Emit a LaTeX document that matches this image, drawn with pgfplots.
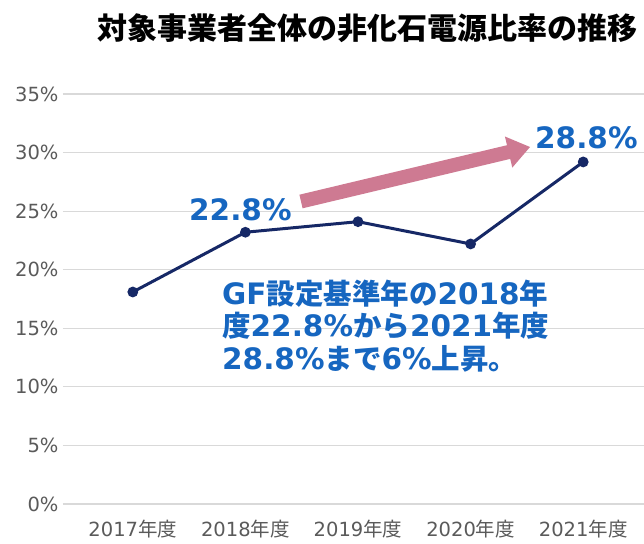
\documentclass[border=0pt]{standalone}
\usepackage{fontspec}
\setmainfont{DejaVu Sans}
\newfontfamily\cjk{Noto Sans CJK JP}
\usepackage{pgfplots}
\pgfplotsset{compat=1.18}
\definecolor{navy}{RGB}{22,40,102}
\definecolor{tblue}{RGB}{22,102,192}
\definecolor{apink}{RGB}{206,122,146}
\definecolor{gridc}{RGB}{217,217,217}
\definecolor{tickc}{RGB}{90,90,90}
\begin{document}
\begin{tikzpicture}[x=1pt,y=-1pt]
\path[use as bounding box] (0,0) rectangle (644,543);
\begin{axis}[
  at={(63pt,-504pt)}, anchor=south west,
  scale only axis, width=581pt, height=410pt,
  xmin=-0.62, xmax=4.54, ymin=0, ymax=35,
  axis line style={draw=none}, tick style={draw=none},
  ymajorgrids, grid style={gridc, line width=1.2pt},
  ytick={0,5,...,35},
  xtick={0,1,2,3,4},
  xticklabels={{2017\cjk 年度},{2018\cjk 年度},{2019\cjk 年度},{2020\cjk 年度},{2021\cjk 年度}},
  /pgf/number format/assume math mode=true,
  yticklabel={\pgfmathprintnumber{\tick}\%},
  ticklabel style={font=\fontsize{19.5}{22}\selectfont, text=tickc},
  yticklabel style={xshift=-1pt},
  xticklabel style={anchor=base, yshift=-32pt},
  clip=false,
]
\addplot[navy, line width=3pt, mark=*, mark size=3.8pt, mark options={fill=navy, draw=navy}]
  coordinates {(0,18.1) (1,23.2) (2,24.1) (3,22.2) (4,29.2)};
\end{axis}
% arrow
\fill[apink] (302.6,208.3) -- (510.2,158.9) -- (512.3,167.6) -- (530,147) -- (504.9,136.5) -- (507.0,145.2) -- (299.4,194.7) -- cycle;
% title
\node[anchor=west, inner sep=0pt, font=\cjk\bfseries\fontsize{30}{34}\selectfont] at (97,28) {対象事業者全体の非化石電源比率の推移};
% value labels
\node[anchor=base west, inner sep=0pt, text=tblue, font=\bfseries\fontsize{29.5}{32}\selectfont] at (189,220) {22.8\%};
\node[anchor=base west, inner sep=0pt, text=tblue, font=\bfseries\fontsize{29.5}{32}\selectfont] at (535,148) {28.8\%};
% text block
\begin{scope}[every node/.style={anchor=base west, inner sep=0pt, text=tblue, font=\bfseries\fontsize{29.5}{32}\selectfont}]
\node at (222,304) {GF{\cjk\bfseries\fontsize{28.5}{32}\selectfont 設定基準年の}2018{\cjk\bfseries\fontsize{28.5}{32}\selectfont 年}};
\node at (222,336.5) {{\cjk\bfseries\fontsize{28.5}{32}\selectfont 度}22.8\%{\cjk\bfseries\fontsize{28.5}{32}\selectfont から}2021{\cjk\bfseries\fontsize{28.5}{32}\selectfont 年度}};
\node at (222,369) {28.8\%{\cjk\bfseries\fontsize{28.5}{32}\selectfont まで}6\%{\cjk\bfseries\fontsize{28.5}{32}\selectfont 上昇。}};
\end{scope}
\end{tikzpicture}
\end{document}
